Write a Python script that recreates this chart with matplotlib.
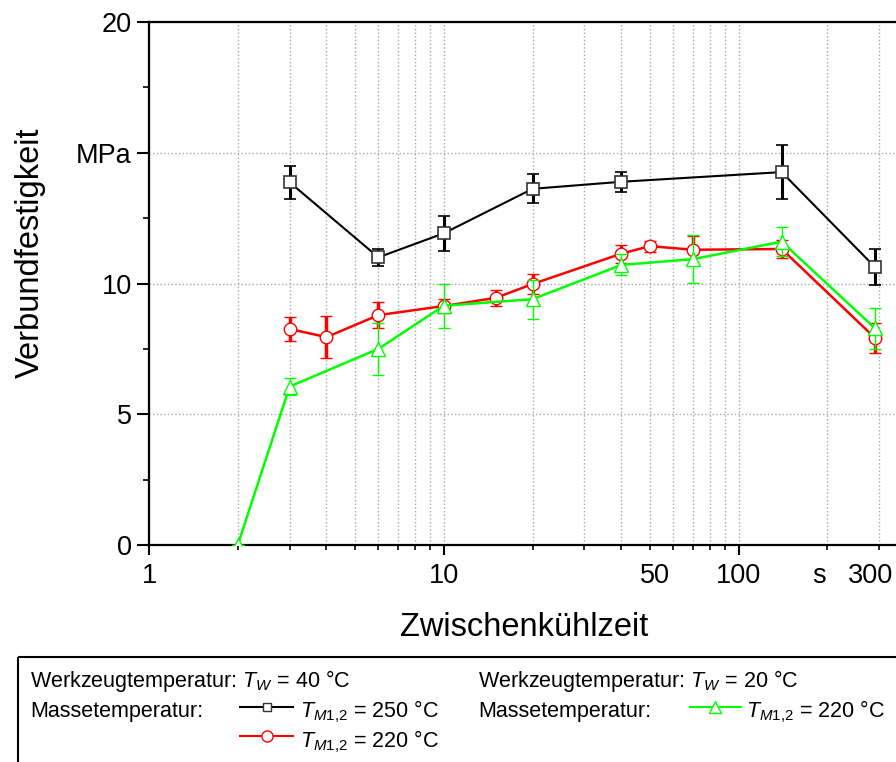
import numpy as np
import matplotlib
matplotlib.use("Agg")
import matplotlib.pyplot as plt
from matplotlib.lines import Line2D
from matplotlib.patches import Rectangle
from matplotlib.ticker import FixedLocator, FixedFormatter, NullFormatter
from matplotlib.transforms import ScaledTranslation

plt.rcParams["font.family"] = ["Liberation Sans", "DejaVu Sans"]
plt.rcParams["mathtext.fontset"] = "custom"
plt.rcParams["mathtext.rm"] = "Liberation Sans"
plt.rcParams["mathtext.it"] = "Liberation Sans:italic"

# Werkzeug 40 °C, Masse 250 °C
t_250 = [3, 6, 10, 20, 40, 140, 290]
f_250 = [13.87, 11.0, 11.92, 13.62, 13.89, 14.26, 10.63]
e_250 = [0.63, 0.33, 0.68, 0.55, 0.38, 1.04, 0.70]

# Werkzeug 40 °C, Masse 220 °C
t_220 = [3, 4, 6, 10, 15, 20, 40, 50, 70, 140, 290]
f_220 = [8.26, 7.95, 8.79, 9.14, 9.45, 9.98, 11.14, 11.43, 11.29, 11.32, 7.92]
e_220 = [0.47, 0.80, 0.50, 0.28, 0.30, 0.40, 0.35, 0.21, 0.54, 0.35, 0.58]

# Werkzeug 20 °C, Masse 220 °C
t_w20 = [2, 3, 6, 10, 20, 40, 70, 140, 290]
f_w20 = [0.0, 6.06, 7.5, 9.15, 9.4, 10.71, 10.93, 11.6, 8.29]
e_w20 = [0.0, 0.33, 1.0, 0.85, 0.75, 0.4, 0.92, 0.55, 0.78]

x_major = [1, 10, 100]
x_minor = [2, 3, 4, 5, 6, 7, 8, 9, 20, 30, 40, 50, 60, 70, 80, 90, 200, 300]
x_minor_labels = {50: "50", 200: "s", 300: "300"}
y_major = [0, 5, 10, 15, 20]
y_major_labels = ["0", "5", "10", "MPa", "20"]
y_minor = [2.5, 7.5, 12.5, 17.5]

GREEN = "#00ff00"
W, H = 896, 762

fig = plt.figure(figsize=(W / 100, H / 100), dpi=100)
ax = fig.add_axes([149 / W, (H - 545) / H, (899 - 149) / W, 523 / H])

ax.errorbar(t_250, f_250, yerr=e_250, color="black", lw=1.5, marker="s", ms=8,
            mfc="white", mec="#333333", mew=1.2, ecolor="black",
            elinewidth=2.2, capsize=4.3, capthick=2.2, zorder=3)
ax.errorbar(t_220, f_220, yerr=e_220, color="red", lw=1.8, marker="o", ms=9,
            mfc="white", mec="red", mew=1.0, ecolor="red",
            elinewidth=2.5, capsize=4.5, capthick=2.5, zorder=4)
ax.errorbar(t_w20, f_w20, yerr=e_w20, color=GREEN, lw=1.8, marker="^", ms=10,
            mfc="white", mec=GREEN, mew=1.0, ecolor=GREEN,
            elinewidth=1.0, capsize=4.6, capthick=1.0, zorder=5)

ax.set_xscale("log")
ax.set_xlim(1, 350)
ax.set_ylim(0, 20)

ax.xaxis.set_major_locator(FixedLocator(x_major))
ax.xaxis.set_major_formatter(FixedFormatter([str(v) for v in x_major]))
ax.xaxis.set_minor_locator(FixedLocator(x_minor))
ax.xaxis.set_minor_formatter(FixedFormatter([x_minor_labels.get(v, "") for v in x_minor]))
ax.yaxis.set_major_locator(FixedLocator(y_major))
ax.yaxis.set_major_formatter(FixedFormatter(y_major_labels))
ax.yaxis.set_minor_locator(FixedLocator(y_minor))
ax.yaxis.set_minor_formatter(NullFormatter())

ax.tick_params(axis="x", which="major", direction="out", length=7.2, width=1.5,
               pad=5.5, labelsize=19.5)
ax.tick_params(axis="x", which="minor", direction="out", length=3.8, width=1.2,
               pad=8.9, labelsize=19.5)
ax.tick_params(axis="y", which="major", direction="out", length=8.5, width=1.5,
               pad=4.0, labelsize=19.5)
ax.tick_params(axis="y", which="minor", direction="out", length=4.3, width=1.2)

# the labelled minor ticks sit a little off their tick in the original
label_shift = {50: 5, 200: -8, 300: -9}
for v, tick in zip(x_minor, ax.xaxis.get_minor_ticks()):
    if v in label_shift:
        off = ScaledTranslation(label_shift[v] / 100, 0, fig.dpi_scale_trans)
        tick.label1.set_transform(tick.label1.get_transform() + off)

ax.grid(True, axis="x", which="both", color="#a8a8a8", ls=":", lw=1.0)
ax.grid(True, axis="y", which="major", color="#a8a8a8", ls=":", lw=1.0)
ax.set_axisbelow(True)
for s in ax.spines.values():
    s.set_linewidth(1.6)

fig.text(30 / W, 1 - 253 / H, "Verbundfestigkeit", rotation=90, fontsize=23.5,
         ha="center", va="center")
fig.text(524 / W, 1 - 628 / H, "Zwischenkühlzeit", fontsize=23.5,
         ha="center", va="center")

# legend box drawn in pixel coordinates
lax = fig.add_axes([0, 0, 1, 1], zorder=10)
lax.set_xlim(0, W)
lax.set_ylim(H, 0)
lax.set_axis_off()
lax.add_patch(Rectangle((18, 657), 900, 120, fill=False, lw=1.5, ec="black"))

fs = 15.5
tm = r"$T_{\mathit{M1{,}2}}$"
lax.text(30, 686.5, r"Werkzeugtemperatur: $T_{W}$ = 40 °C", fontsize=fs)
lax.text(30, 717, "Massetemperatur:", fontsize=fs)
lax.text(300, 717, tm + " = 250 °C", fontsize=fs)
lax.text(300, 747, tm + " = 220 °C", fontsize=fs)
lax.text(478, 686.5, r"Werkzeugtemperatur: $T_{W}$ = 20 °C", fontsize=fs)
lax.text(478, 717, "Massetemperatur:", fontsize=fs)
lax.text(746, 717, tm + " = 220 °C", fontsize=fs)

lax.add_line(Line2D([240, 293], [707, 707], color="black", lw=1.5))
lax.add_line(Line2D([267], [707], marker="s", ms=6, mfc="white", mec="#333333", mew=1.0))
lax.add_line(Line2D([240, 293], [736, 736], color="red", lw=1.5))
lax.add_line(Line2D([267], [736], marker="o", ms=8, mfc="white", mec="red", mew=1.0))
lax.add_line(Line2D([690, 741], [707, 707], color=GREEN, lw=1.5))
lax.add_line(Line2D([715], [707], marker="^", ms=8, mfc="white", mec=GREEN, mew=1.0))

fig.savefig("out.png", dpi=100)
